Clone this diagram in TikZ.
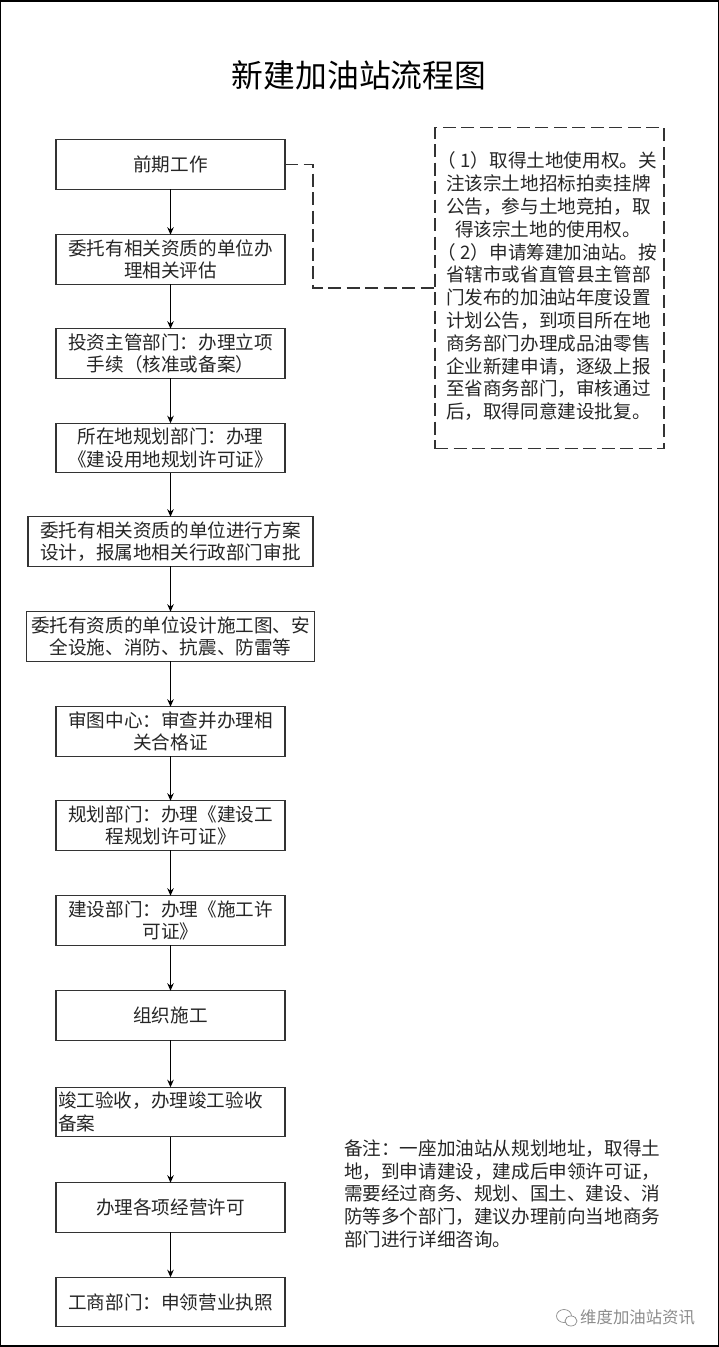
\documentclass[tikz,border=0pt]{standalone}
\usepackage{fontspec}
\setmainfont{Liberation Serif}
\newfontfamily\cjk{Noto Sans CJK SC}
\usetikzlibrary{arrows.meta,positioning,calc}
\definecolor{inkc}{HTML}{262626}
\definecolor{linec}{HTML}{333333}
\definecolor{wmc}{HTML}{8C8C8C}
\tikzset{
  txt/.style={font=\cjk\fontsize{18.6}{22.6}\selectfont,text=inkc,inner sep=0pt,outer sep=0pt},
  longtxt/.style={font=\cjk\fontsize{18.6}{22.8}\selectfont,text=inkc,inner sep=0pt,outer sep=0pt},
  stepbox/.style={txt,draw=linec,line width=1.1pt,fill=white,minimum width=229pt,minimum height=49.5pt,align=center,anchor=center},
  widebox/.style={stepbox,minimum width=287pt},
  flow/.style={draw=black,line width=0.9pt,-{Stealth[length=7.5pt,width=6.5pt]}},
  dashline/.style={draw=linec,line width=1.1pt,dash pattern=on 13pt off 5.5pt}
}
\begin{document}
\begin{tikzpicture}[x=1pt,y=-1pt]
\useasboundingbox (0,0) rectangle (719,1347);
\draw[black,line width=1.5pt] (0.7,1.2) rectangle (718.3,1345.8);
\node[font=\cjk\fontsize{31.8}{36}\selectfont,text=black,inner sep=0pt] (title) at (359,75) {新建加油站流程图};
\node[stepbox] (b1) at (170.5,164.5) {前期工作};
\node[stepbox] (b2) at (170.5,259.5) {委托有相关资质的单位办\\理相关评估};
\node[stepbox] (b3) at (170.5,353.5) {投资主管部门：办理立项\\手续（核准或备案）};
\node[stepbox] (b4) at (170.5,448) {所在地规划部门：办理\\《建设用地规划许可证》};
\node[widebox,minimum width=285pt] (b5) at (170.5,541.5) {委托有相关资质的单位进行方案\\设计，报属地相关行政部门审批};
\node[widebox,minimum width=288pt] (b6) at (170.5,636.5) {委托有资质的单位设计施工图、安\\全设施、消防、抗震、防雷等};
\node[stepbox] (b7) at (170.5,731.5) {审图中心：审查并办理相\\关合格证};
\node[stepbox] (b8) at (170.5,825.5) {规划部门：办理《建设工\\程规划许可证》};
\node[stepbox] (b9) at (170.5,920.5) {建设部门：办理《施工许\\可证》};
\node[stepbox] (b10) at (170.5,1015.5) {组织施工};
\node[stepbox,align=left,text width=225pt] (b11) at (170.5,1112) {竣工验收，办理竣工验收\\备案};
\node[stepbox] (b12) at (170.5,1207.5) {办理各项经营许可};
\node[stepbox] (b13) at (170.5,1302) {工商部门：申领营业执照};
\foreach \a/\b in {b1/b2,b2/b3,b3/b4,b4/b5,b5/b6,b6/b7,b7/b8,b8/b9,b9/b10,b10/b11,b11/b12,b12/b13}
  \draw[flow] (\a.south) -- (\b.north);
\node[txt,dashline,minimum width=229pt,minimum height=321pt,anchor=north west] (note) at (435,127.5) {};
\node[longtxt,anchor=north west,align=left] (notetext) at (446,152) {\hspace*{-9pt}（\hspace{5pt}1）取得土地使用权。关\\注该宗土地招标拍卖挂牌\\公告，参与土地竞拍，取\\\hspace*{9pt}得该宗土地的使用权。\\\hspace*{-9pt}（\hspace{5pt}2）申请筹建加油站。按\\省辖市或省直管县主管部\\门发布的加油站年度设置\\计划公告，到项目所在地\\商务部门办理成品油零售\\企业新建申请，逐级上报\\至省商务部门，审核通过\\后，取得同意建设批复。};
\coordinate (c1) at (313,164.5);
\coordinate (c2) at (313,288);
\draw[dashline] (b1.east) -- (c1) -- (c2) -- (c2 -| note.west);
\node[longtxt,anchor=north west,align=left] (remark) at (344,1139.5) {备注：一座加油站从规划地址，取得土\\地，到申请建设，建成后申领许可证，\\需要经过商务、规划、国土、建设、消\\防等多个部门，建议办理前向当地商务\\部门进行详细咨询。};
\draw[wmc,line width=0.7pt] (564,1316) ellipse (7.5pt and 6.5pt);
\draw[wmc,line width=0.7pt,fill=white] (571,1321) ellipse (6pt and 5pt);
\node[font=\cjk\fontsize{16.4}{20}\selectfont,text=wmc,inner sep=0pt,anchor=west] (wm) at (580,1317) {维度加油站资讯};
\end{tikzpicture}
\end{document}
